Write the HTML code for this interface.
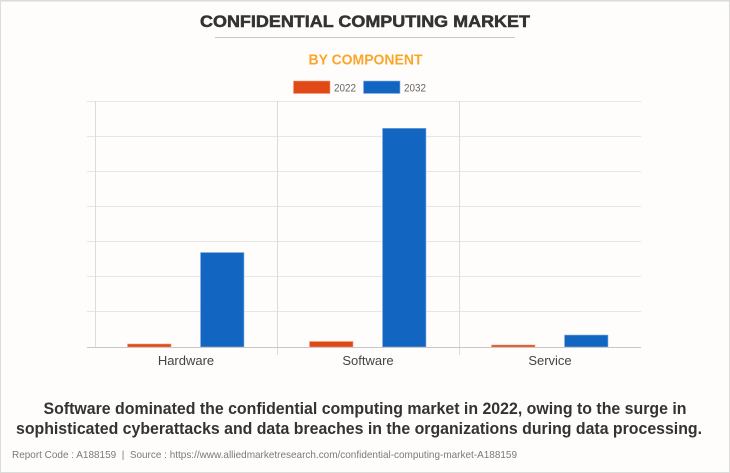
<!DOCTYPE html>
<html><head><meta charset="utf-8"><style>
html,body{margin:0;padding:0;background:#fff;}
svg{display:block;}
text{font-family:"Liberation Sans",Arial,sans-serif;}
</style></head><body>
<svg width="730" height="473" viewBox="0 0 730 473" xmlns="http://www.w3.org/2000/svg">
<rect x="0.5" y="0.5" width="729" height="472" fill="#fefdfb" stroke="#dcdcdc" stroke-width="1"/>
<rect x="0" y="0" width="730" height="1.5" fill="#dcdcdc"/>
<text x="365" y="27" text-anchor="middle" font-size="17" font-weight="bold" fill="#333" stroke="#333" stroke-width="0.5" textLength="330" lengthAdjust="spacingAndGlyphs">CONFIDENTIAL COMPUTING MARKET</text>
<rect x="215" y="37" width="300" height="1" fill="#c8c8c8"/>
<text x="365.5" y="64.5" text-anchor="middle" font-size="15" font-weight="bold" fill="#f9a72b" textLength="114" lengthAdjust="spacingAndGlyphs">BY COMPONENT</text>
<rect x="293.5" y="81" width="36.5" height="12.5" fill="#e04816" stroke="#f0a080" stroke-width="0.6"/>
<text x="334" y="91.5" font-size="11" fill="#666" textLength="22" lengthAdjust="spacingAndGlyphs">2022</text>
<rect x="363.5" y="81" width="36.5" height="12.5" fill="#1266c2" stroke="#8fb4e4" stroke-width="0.6"/>
<text x="404" y="91.5" font-size="11" fill="#666" textLength="22" lengthAdjust="spacingAndGlyphs">2032</text>
<g stroke="#e6e6e6" stroke-width="1">
<line x1="87" y1="101.5" x2="641" y2="101.5"/>
<line x1="87" y1="136.5" x2="641" y2="136.5"/>
<line x1="87" y1="171.5" x2="641" y2="171.5"/>
<line x1="87" y1="206.5" x2="641" y2="206.5"/>
<line x1="87" y1="241.5" x2="641" y2="241.5"/>
<line x1="87" y1="276.5" x2="641" y2="276.5"/>
<line x1="87" y1="311.5" x2="641" y2="311.5"/>
</g>
<g stroke="#dcdcdc" stroke-width="1">
<line x1="95.5" y1="101" x2="95.5" y2="347"/>
<line x1="277.5" y1="101" x2="277.5" y2="355"/>
<line x1="459.5" y1="101" x2="459.5" y2="355"/>
</g>
<g stroke-width="0.6">
<rect x="127.5" y="344" width="43.5" height="3" fill="#e04816" stroke="#f0a080"/>
<rect x="200.5" y="252.5" width="43.5" height="94.5" fill="#1266c2" stroke="#8fb4e4"/>
<rect x="309.5" y="341.5" width="43.5" height="5.5" fill="#e04816" stroke="#f0a080"/>
<rect x="382.5" y="128.3" width="43.5" height="218.7" fill="#1266c2" stroke="#8fb4e4"/>
<rect x="491.5" y="345" width="43.5" height="2" fill="#e04816" stroke="#f0a080"/>
<rect x="564.5" y="335" width="43.5" height="12" fill="#1266c2" stroke="#8fb4e4"/>
</g>
<line x1="87" y1="347.5" x2="641" y2="347.5" stroke="#c8c8c8" stroke-width="1"/>
<text x="186" y="365" text-anchor="middle" font-size="13" fill="#444">Hardware</text>
<text x="368" y="365" text-anchor="middle" font-size="13" fill="#444">Software</text>
<text x="550" y="365" text-anchor="middle" font-size="13" fill="#444">Service</text>
<text x="43.5" y="414" font-size="16.5" font-weight="bold" fill="#333" textLength="643" lengthAdjust="spacingAndGlyphs">Software dominated the confidential computing market in 2022, owing to the surge in</text>
<text x="16" y="434" font-size="16.5" font-weight="bold" fill="#333" textLength="686" lengthAdjust="spacingAndGlyphs">sophisticated cyberattacks and data breaches in the organizations during data processing.</text>
<text x="12" y="458" font-size="10.5" fill="#7a7a7a" textLength="505" lengthAdjust="spacingAndGlyphs">Report Code : A188159 &#160;| &#160;Source : https://www.alliedmarketresearch.com/confidential-computing-market-A188159</text>
</svg>
</body></html>
